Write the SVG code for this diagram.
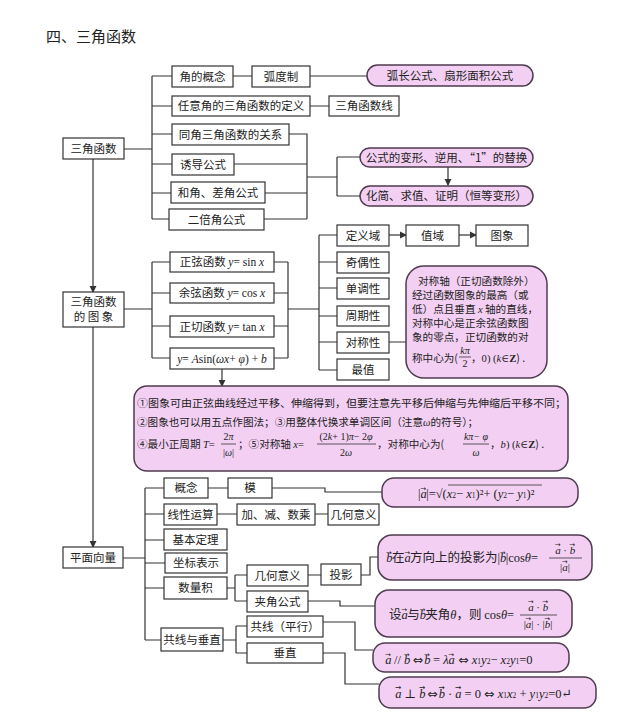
<svg xmlns="http://www.w3.org/2000/svg" width="640" height="727" viewBox="0 0 640 727">
<style>
.box{fill:#fff;stroke:#333;stroke-width:1.2}
.pink{fill:#f3d0f3;stroke:#4f3b4f;stroke-width:1.5}
.c{fill:none;stroke:#333;stroke-width:1.2}
text{font-family:"Noto Sans CJK SC","Noto Sans",sans-serif;font-size:11.5px;fill:#222}
.t{text-anchor:middle}
.s{font-size:10.6px}
.m{font-family:"Liberation Serif","DejaVu Serif",serif;font-style:italic}
.r{font-family:"Liberation Serif","DejaVu Serif",serif}
.va{font-family:"DejaVu Sans",sans-serif;font-size:7px;font-style:normal}
.eq{font-family:"DejaVu Sans",sans-serif;font-style:normal}
.sb{font-size:7.5px}
.fl{stroke:#333;stroke-width:0.8}
</style>
<defs>
<marker id="ar" viewBox="0 0 8 8" refX="7" refY="4" markerWidth="6" markerHeight="6" orient="auto-start-reverse">
<path d="M0,0 L8,4 L0,8 z" fill="#333"/>
</marker>
</defs>
<rect width="640" height="727" fill="#fff"/>
<text x="46" y="42" style="font-size:15px">四、三角函数</text>

<g id="connectors">
<path class="c" d="M124,149 H152 M152,76 V219 M152,76 H172 M152,106 H172 M152,134 H172 M152,164 H172 M152,193 H171 M152,219 H169"/>
<path class="c" d="M233,76 H252 M310,76 H367 M310,106 H329"/>
<path class="c" d="M289,134 H307 V219 M234,164 H307 M265,193 H307 M264,219 H307 M307,177 H337 M337,157 V196 M337,157 H360 M337,196 H360"/>
<path class="c" d="M448,167 V185" marker-end="url(#ar)"/>
<path class="c" d="M93,159 V292" marker-end="url(#ar)"/>
<path class="c" d="M93,327 V547" marker-end="url(#ar)"/>
<path class="c" d="M124,309 H152 M152,262 V358 M152,262 H170 M152,293 H170 M152,326 H170 M152,358 H170"/>
<path class="c" d="M274,262 H288 M274,293 H288 M274,326 H288 M274,358 H288 M288,262 V358 M288,309 H319"/>
<path class="c" d="M319,235 V370 M319,235 H337 M319,262 H337 M319,288 H337 M319,316 H337 M319,342 H337 M319,370 H337 M389,342 H406"/>
<path class="c" d="M389,235 H406" marker-end="url(#ar)"/>
<path class="c" d="M459,235 H476" marker-end="url(#ar)"/>
<path class="c" d="M222,369 V386" marker-end="url(#ar)"/>
<path class="c" d="M123,558 H145 M145,488 V640 M145,488 H164 M145,514 H164 M145,540 H164 M145,563 H165 M145,588 H164 M145,640 H161"/>
<path class="c" d="M208,488 H228 M272,488 H325 V492 H382 M217,514 H237 M315,514 H328"/>
<path class="c" d="M227,588 H235 M235,575 V601 M235,575 H247 M235,601 H247 M308,575 H321 M361,575 H370 V557 H378 M308,601 H340 V606 H375"/>
<path class="c" d="M223,640 H236 M236,626 V653 M236,626 H247 M236,653 H247 M323,622 H355 V650 H373 M323,653 H345 V684 H379"/>
</g>

<g id="n-sanjiao"><rect class="box" x="63" y="138" width="61" height="21"/><text class="t" x="93.5" y="153">三角函数</text></g>
<g id="n-jiaodegainian"><rect class="box" x="172" y="66" width="61" height="21"/><text class="t" x="202.5" y="80.5">角的概念</text></g>
<g id="n-hudu"><rect class="box" x="252" y="66" width="58" height="21"/><text class="t" x="281" y="80.5">弧度制</text></g>
<g id="n-huchang"><rect class="pink" x="367" y="65" width="166" height="21" rx="10.5"/><text class="t" x="450" y="80">弧长公式、扇形面积公式</text></g>
<g id="n-renyijiao"><rect class="box" x="172" y="96" width="138" height="20"/><text class="t" x="241" y="110">任意角的三角函数的定义</text></g>
<g id="n-sjhsx"><rect class="box" x="329" y="96" width="70" height="20"/><text class="t" x="364" y="110">三角函数线</text></g>
<g id="n-tongjiao"><rect class="box" x="172" y="124" width="117" height="21"/><text class="t" x="230.5" y="138.5">同角三角函数的关系</text></g>
<g id="n-youdao"><rect class="box" x="172" y="154" width="62" height="21"/><text class="t" x="203" y="168.5">诱导公式</text></g>
<g id="n-hejiao"><rect class="box" x="171" y="182" width="94" height="21"/><text class="t" x="218" y="196.5">和角、差角公式</text></g>
<g id="n-erbei"><rect class="box" x="169" y="209" width="95" height="21"/><text class="t" x="216.5" y="223.5">二倍角公式</text></g>
<g id="n-bianxing"><rect class="pink" x="360" y="148" width="173" height="19" rx="9.5"/><text class="t" x="446.5" y="161.5">公式的变形、逆用、“1”的替换</text></g>
<g id="n-huajian"><rect class="pink" x="360" y="186" width="173" height="20" rx="10"/><text class="t" x="446.5" y="200">化简、求值、证明（恒等变形）</text></g>

<g id="n-tuxiang"><rect class="box" x="63" y="292" width="61" height="35"/><text class="t" x="93.5" y="306">三角函数</text><text class="t" x="93.5" y="321">的 图 象</text></g>
<g id="n-sin"><rect class="box" x="170" y="252" width="104" height="20"/><text class="t" x="222" y="266">正弦函数 <tspan class="m">y</tspan><tspan class="r">= sin </tspan><tspan class="m">x</tspan></text></g>
<g id="n-cos"><rect class="box" x="170" y="283" width="104" height="20"/><text class="t" x="222" y="297">余弦函数 <tspan class="m">y</tspan><tspan class="r">= cos </tspan><tspan class="m">x</tspan></text></g>
<g id="n-tan"><rect class="box" x="170" y="316" width="104" height="21"/><text class="t" x="222" y="330.5">正切函数 <tspan class="m">y</tspan><tspan class="r">= tan </tspan><tspan class="m">x</tspan></text></g>
<g id="n-asin"><rect class="box" x="170" y="348" width="104" height="21"/><text class="t" x="222" y="362.5"><tspan class="m">y</tspan><tspan class="r">= </tspan><tspan class="m">A</tspan><tspan class="r">sin(</tspan><tspan class="m">ωx</tspan><tspan class="r">+ </tspan><tspan class="m">φ</tspan><tspan class="r">) + </tspan><tspan class="m">b</tspan></text></g>

<g id="n-dingyiyu"><rect class="box" x="337" y="225" width="52" height="21"/><text class="t" x="363" y="239.5">定义域</text></g>
<g id="n-jiou"><rect class="box" x="337" y="252" width="52" height="21"/><text class="t" x="363" y="266.5">奇偶性</text></g>
<g id="n-dandiao"><rect class="box" x="337" y="278" width="52" height="21"/><text class="t" x="363" y="292.5">单调性</text></g>
<g id="n-zhouqi"><rect class="box" x="337" y="306" width="52" height="20"/><text class="t" x="363" y="320">周期性</text></g>
<g id="n-duichen"><rect class="box" x="337" y="332" width="52" height="21"/><text class="t" x="363" y="346.5">对称性</text></g>
<g id="n-zuizhi"><rect class="box" x="337" y="359" width="52" height="21"/><text class="t" x="363" y="373.5">最值</text></g>
<g id="n-zhiyu"><rect class="box" x="406" y="225" width="53" height="21"/><text class="t" x="432.5" y="239.5">值域</text></g>
<g id="n-tux"><rect class="box" x="476" y="225" width="52" height="21"/><text class="t" x="502" y="239.5">图象</text></g>

<g id="n-duichenzhou"><rect class="pink" x="406" y="266" width="141" height="112" rx="18"/>
<text x="418" y="285" class="s">对称轴（正切函数除外）</text>
<text x="412" y="299" class="s">经过函数图象的最高（或</text>
<text x="412" y="313" class="s">低）点且垂直 <tspan class="m">x</tspan> 轴的直线，</text>
<text x="412" y="327" class="s">对称中心是正余弦函数图</text>
<text x="412" y="341" class="s">象的零点，正切函数的对</text>
<text x="412" y="362" class="s">称中心为(</text>
<text x="465" y="354" class="m t" style="font-size:10px">kπ</text>
<line class="fl" x1="459" y1="357" x2="471" y2="357"/>
<text x="465" y="367" class="r t" style="font-size:10px">2</text>
<text x="471" y="362" class="s">，<tspan class="r">0) (</tspan><tspan class="m">k</tspan><tspan class="r">∈</tspan><tspan class="r" font-weight="bold">Z</tspan>) .</text>
</g>

<g id="n-asinnote"><rect class="pink" x="134" y="386" width="434" height="85" rx="13"/>
<text x="137" y="407" class="s" textLength="429" lengthAdjust="spacingAndGlyphs">①图象可由正弦曲线经过平移、伸缩得到，但要注意先平移后伸缩与先伸缩后平移不同；</text>
<text x="137" y="426" class="s">②图象也可以用五点作图法；③用整体代换求单调区间（注意<tspan class="m">ω</tspan>的符号）；</text>
<text x="137" y="448" class="s">④最小正周期 <tspan class="m">T</tspan><tspan class="r">=</tspan></text>
<text x="228.5" y="440" class="r t" style="font-size:10px">2<tspan class="m">π</tspan></text>
<line class="fl" x1="221" y1="444" x2="236" y2="444"/>
<text x="228.5" y="456" class="r t" style="font-size:10px">|<tspan class="m">ω</tspan>|</text>
<text x="238" y="448" class="s">；⑤对称轴 <tspan class="m">x</tspan><tspan class="r">=</tspan></text>
<text x="346" y="440" class="r t" style="font-size:10px">(2<tspan class="m">k</tspan>+ 1)<tspan class="m">π</tspan>− 2<tspan class="m">φ</tspan></text>
<line class="fl" x1="317" y1="444" x2="376" y2="444"/>
<text x="346" y="456" class="r t" style="font-size:10px">2<tspan class="m">ω</tspan></text>
<text x="377" y="448" class="s">，对称中心为(</text>
<text x="476" y="440" class="m t" style="font-size:10px">kπ<tspan class="r">− </tspan>φ</text>
<line class="fl" x1="463" y1="444" x2="489" y2="444"/>
<text x="476" y="456" class="m t" style="font-size:10px">ω</text>
<text x="490" y="448" class="s">，<tspan class="m">b</tspan><tspan class="r">) (</tspan><tspan class="m">k</tspan><tspan class="r">∈</tspan><tspan class="r" font-weight="bold">Z</tspan>) .</text>
</g>

<g id="n-pingmian"><rect class="box" x="63" y="547" width="60" height="21"/><text class="t" x="93" y="561.5">平面向量</text></g>
<g id="n-gainian"><rect class="box" x="164" y="478" width="44" height="20"/><text class="t" x="186" y="492">概念</text></g>
<g id="n-mo"><rect class="box" x="228" y="478" width="44" height="20"/><text class="t" x="250" y="492">模</text></g>
<g id="n-mogongshi"><rect class="pink" x="382" y="478" width="196" height="29" rx="12"/>
<text x="418" y="498" class="r" style="font-size:12.5px">|<tspan class="m">a</tspan><tspan class="va" dx="-6.5" dy="-7.5">→</tspan><tspan dy="7.5">|=√(</tspan><tspan class="m">x</tspan><tspan class="sb">2</tspan>− <tspan class="m">x</tspan><tspan class="sb">1</tspan>)²+ (<tspan class="m">y</tspan><tspan class="sb">2</tspan>− <tspan class="m">y</tspan><tspan class="sb">1</tspan>)²</text>
<line class="fl" x1="448" y1="485" x2="542" y2="485"/>
</g>
<g id="n-xianxing"><rect class="box" x="164" y="504" width="53" height="21"/><text class="t" x="190.5" y="518.5">线性运算</text></g>
<g id="n-jiajian"><rect class="box" x="237" y="504" width="78" height="21"/><text class="t" x="276" y="518.5">加、减、数乘</text></g>
<g id="n-jihe1"><rect class="box" x="328" y="504" width="51" height="21"/><text class="t" x="353.5" y="518.5">几何意义</text></g>
<g id="n-jiben"><rect class="box" x="164" y="529" width="63" height="21"/><text class="t" x="195.5" y="543.5">基本定理</text></g>
<g id="n-zuobiao"><rect class="box" x="165" y="553" width="62" height="20"/><text class="t" x="196" y="567">坐标表示</text></g>
<g id="n-shuliangji"><rect class="box" x="164" y="577" width="63" height="22"/><text class="t" x="195.5" y="592">数量积</text></g>
<g id="n-jihe2"><rect class="box" x="247" y="565" width="61" height="21"/><text class="t" x="277.5" y="579.5">几何意义</text></g>
<g id="n-touying"><rect class="box" x="321" y="564" width="40" height="21"/><text class="t" x="341" y="578.5">投影</text></g>
<g id="n-touyingshi"><rect class="pink" x="378" y="535" width="214" height="45" rx="14"/>
<text x="386" y="562" style="font-size:12.5px"><tspan class="m">b</tspan><tspan class="va" dx="-6.5" dy="-7.5">→</tspan><tspan dy="7.5">在</tspan><tspan class="m">a</tspan><tspan class="va" dx="-6.5" dy="-7.5">→</tspan><tspan dy="7.5">方向上的投影为</tspan><tspan class="r">|</tspan><tspan class="m">b</tspan><tspan class="va" dx="-6.5" dy="-7.5">→</tspan><tspan class="r" dy="7.5">|cos</tspan><tspan class="m">θ</tspan><tspan class="r">=</tspan></text>
<text x="565" y="554" class="r t" style="font-size:11px"><tspan class="m">a</tspan><tspan class="va" dx="-6" dy="-7">→</tspan><tspan dy="7"> · </tspan><tspan class="m">b</tspan><tspan class="va" dx="-6" dy="-7">→</tspan></text>
<line class="fl" x1="549" y1="558" x2="582" y2="558"/>
<text x="565" y="571" class="r t" style="font-size:11px">|<tspan class="m">a</tspan><tspan class="va" dx="-6" dy="-7">→</tspan><tspan dy="7">|</tspan></text>
</g>
<g id="n-jiajiao"><rect class="box" x="247" y="591" width="61" height="21"/><text class="t" x="277.5" y="605.5">夹角公式</text></g>
<g id="n-jiajiaoshi"><rect class="pink" x="375" y="590" width="197" height="47" rx="14"/>
<text x="389" y="619" style="font-size:12.5px">设<tspan class="m">a</tspan><tspan class="va" dx="-6.5" dy="-7.5">→</tspan><tspan dy="7.5">与</tspan><tspan class="m">b</tspan><tspan class="va" dx="-6.5" dy="-7.5">→</tspan><tspan dy="7.5">夹角</tspan><tspan class="m">θ</tspan>，则 <tspan class="r">cos</tspan><tspan class="m">θ</tspan><tspan class="r">=</tspan></text>
<text x="538" y="611" class="r t" style="font-size:11px"><tspan class="m">a</tspan><tspan class="va" dx="-6" dy="-7">→</tspan><tspan dy="7"> · </tspan><tspan class="m">b</tspan><tspan class="va" dx="-6" dy="-7">→</tspan></text>
<line class="fl" x1="520" y1="615" x2="557" y2="615"/>
<text x="538" y="628" class="r t" style="font-size:11px">|<tspan class="m">a</tspan><tspan class="va" dx="-6" dy="-7">→</tspan><tspan dy="7">| · |</tspan><tspan class="m">b</tspan><tspan class="va" dx="-6" dy="-7">→</tspan><tspan dy="7">|</tspan></text>
</g>
<g id="n-gongxianchuizhi"><rect class="box" x="161" y="628" width="62" height="23"/><text class="t" x="192" y="644">共线与垂直</text></g>
<g id="n-gongxian"><rect class="box" x="247" y="616" width="76" height="21"/><text class="t" x="285" y="630.5">共线（平行）</text></g>
<g id="n-chuizhi"><rect class="box" x="247" y="643" width="76" height="20"/><text class="t" x="285" y="657">垂直</text></g>
<g id="n-pingxingshi"><rect class="pink" x="373" y="643" width="196" height="29" rx="12"/>
<text x="385" y="664" class="r" style="font-size:12.5px"><tspan class="m">a</tspan><tspan class="va" dx="-6.5" dy="-7.5">→</tspan><tspan dy="7.5"> // </tspan><tspan class="m">b</tspan><tspan class="va" dx="-6.5" dy="-7.5">→</tspan><tspan class="eq" dy="7.5" dx="3">⇔</tspan><tspan dx="1" class="m">b</tspan><tspan class="va" dx="-6.5" dy="-7.5">→</tspan><tspan dy="7.5"> = </tspan><tspan class="m">λa</tspan><tspan class="va" dx="-6.5" dy="-7.5">→</tspan><tspan class="eq" dy="7.5" dx="4">⇔</tspan> <tspan class="m">x</tspan><tspan class="sb">1</tspan><tspan class="m">y</tspan><tspan class="sb">2</tspan>− <tspan class="m">x</tspan><tspan class="sb">2</tspan><tspan class="m">y</tspan><tspan class="sb">1</tspan>=0</text>
</g>
<g id="n-chuizhishi"><rect class="pink" x="379" y="677" width="217" height="31" rx="12"/>
<text x="395" y="698" class="r" style="font-size:12.5px"><tspan class="m">a</tspan><tspan class="va" dx="-6.5" dy="-8" style="font-size:7.5px">→</tspan><tspan dy="8"> ⊥ </tspan><tspan class="m">b</tspan><tspan class="va" dx="-6.5" dy="-8" style="font-size:7.5px">→</tspan><tspan class="eq" dy="8" dx="2">⇔</tspan><tspan dx="1" class="m">b</tspan><tspan class="va" dx="-6.5" dy="-8" style="font-size:7.5px">→</tspan><tspan dy="8"> · </tspan><tspan class="m">a</tspan><tspan class="va" dx="-6.5" dy="-8" style="font-size:7.5px">→</tspan><tspan dy="8"> = 0 </tspan><tspan class="eq">⇔</tspan> <tspan class="m">x</tspan><tspan class="sb">1</tspan><tspan class="m">x</tspan><tspan class="sb">2</tspan> + <tspan class="m">y</tspan><tspan class="sb">1</tspan><tspan class="m">y</tspan><tspan class="sb">2</tspan>=0↵</text>
</g>
</svg>
